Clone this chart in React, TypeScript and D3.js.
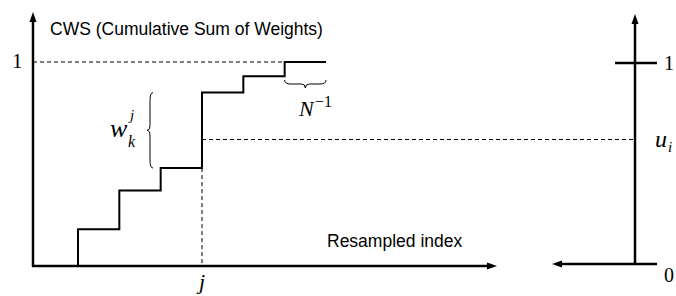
import { useMemo } from "react";
import * as d3 from "d3";

// Resampled index positions and cumulative weight levels
const stepIndex = [1, 2, 3, 4, 5, 6, 7];
const cwsLevels = [0, 0.18, 0.37, 0.48, 0.85, 0.93, 1.0];
const jIndex = 4;
const uValue = 0.62;
const yTicks = [0, 1];

const W = 676;
const H = 296;

function arrowHead(x: number, y: number, dir: "up" | "right" | "left") {
  const l = 10;
  const w = 3.5;
  if (dir === "up") return `M${x},${y} L${x - w},${y + l} L${x + w},${y + l} Z`;
  if (dir === "right") return `M${x},${y} L${x - l},${y - w} L${x - l},${y + w} Z`;
  return `M${x},${y} L${x + l},${y - w} L${x + l},${y + w} Z`;
}

// vertical curly brace, tip pointing left
function vBrace(x: number, y0: number, y1: number, depth: number) {
  const m = (y0 + y1) / 2;
  const d = depth;
  return `M${x},${y0} Q${x - d},${y0} ${x - d},${y0 + 8} L${x - d},${m - 6} Q${x - d},${m} ${x - 2 * d},${m} Q${x - d},${m} ${x - d},${m + 6} L${x - d},${y1 - 8} Q${x - d},${y1} ${x},${y1}`;
}

// horizontal curly brace, tip pointing down
function hBrace(x0: number, x1: number, y: number, depth: number) {
  const m = (x0 + x1) / 2;
  const d = depth;
  return `M${x0},${y} Q${x0},${y + d} ${x0 + 6},${y + d} L${m - 4},${y + d} Q${m},${y + d} ${m},${y + 2 * d} Q${m},${y + d} ${m + 4},${y + d} L${x1 - 6},${y + d} Q${x1},${y + d} ${x1},${y}`;
}

export default function App() {
  const axisX = 33;
  const axisY = 266;
  const rightX = 635;

  const x = useMemo(() => d3.scaleLinear().domain([1, 7]).range([78, 326]), []);
  const y = useMemo(() => d3.scaleLinear().domain([0, 1]).range([axisY, 62]), []);
  const yR = useMemo(() => d3.scaleLinear().domain([0, 1]).range([264, 63]), []);

  const stepPath = useMemo(() => {
    const pts = stepIndex.map((i, k) => [i, cwsLevels[k]] as [number, number]);
    return (
      d3
        .line<[number, number]>()
        .x((d) => x(d[0]))
        .y((d) => y(d[1]))
        .curve(d3.curveStepBefore)(pts) ?? ""
    );
  }, [x, y]);

  const xj = x(jIndex);
  const top = cwsLevels[cwsLevels.length - 1];
  const serif = "'Liberation Serif', 'Times New Roman', serif";
  const sans = "'Liberation Sans', Arial, sans-serif";

  return (
    <div style={{ position: "fixed", left: 0, top: 0 }}>
      <svg width={W} height={H} viewBox={`0 0 ${W} ${H}`} style={{ display: "block", background: "#fff" }}>
        {/* Dashed guides */}
        <line x1={axisX} x2={x(6)} y1={y(top)} y2={y(top)} stroke="#000" strokeWidth={1} strokeDasharray="4,3" />
        <line x1={xj} x2={rightX} y1={y(uValue)} y2={y(uValue)} stroke="#000" strokeWidth={1} strokeDasharray="4,3" />
        <line x1={xj} x2={xj} y1={y(cwsLevels[jIndex - 1])} y2={axisY} stroke="#000" strokeWidth={1} strokeDasharray="4,3" />

        {/* Step function */}
        <path d={stepPath} fill="none" stroke="#000" strokeWidth={2} />

        {/* Left axes */}
        <line x1={axisX} x2={axisX} y1={axisY + 1} y2={20} stroke="#000" strokeWidth={2.5} />
        <path d={arrowHead(axisX, 12, "up")} fill="#000" />
        <line x1={axisX - 1} x2={489} y1={axisY} y2={axisY} stroke="#000" strokeWidth={2.5} />
        <path d={arrowHead(497, axisY, "right")} fill="#000" />

        {/* Right axis */}
        <line x1={rightX} x2={rightX} y1={yR(0)} y2={22} stroke="#000" strokeWidth={2.5} />
        <path d={arrowHead(rightX, 14, "up")} fill="#000" />
        <line x1={560} x2={657} y1={yR(0)} y2={yR(0)} stroke="#000" strokeWidth={2.5} />
        <path d={arrowHead(552, yR(0), "left")} fill="#000" />
        <line x1={615} x2={657} y1={yR(1)} y2={yR(1)} stroke="#000" strokeWidth={2.5} />
        {yTicks.map((t) => (
          <text key={t} x={664} y={t === 0 ? yR(t) + 18 : yR(t) + 7} fontFamily={serif} fontSize={20}>
            {t}
          </text>
        ))}
        <text x={655} y={147} fontFamily={serif} fontStyle="italic" fontSize={24}>
          u
        </text>
        <text x={668} y={152} fontFamily={serif} fontStyle="italic" fontSize={15}>
          i
        </text>

        {/* Braces */}
        <path d={vBrace(153, y(cwsLevels[4]), y(cwsLevels[3]), 3)} fill="none" stroke="#000" strokeWidth={1} />
        <path d={hBrace(x(6), x(7), 80, 4)} fill="none" stroke="#000" strokeWidth={1} />

        {/* Labels */}
        <text x={50} y={35} fontFamily={sans} fontSize={17.5}>
          CWS (Cumulative Sum of Weights)
        </text>
        <text x={12} y={68} fontFamily={serif} fontSize={21}>
          1
        </text>
        <text x={327} y={247} fontFamily={sans} fontSize={17.5}>
          Resampled index
        </text>
        <text x={xj - 3} y={289} fontFamily={serif} fontStyle="italic" fontSize={22}>
          j
        </text>
        <text x={110} y={137} fontFamily={serif} fontStyle="italic" fontSize={26}>
          w
        </text>
        <text x={130} y={120} fontFamily={serif} fontStyle="italic" fontSize={15}>
          j
        </text>
        <text x={128} y={147} fontFamily={serif} fontStyle="italic" fontSize={16}>
          k
        </text>
        <text x={299} y={116} fontFamily={serif} fontStyle="italic" fontSize={22}>
          N
        </text>
        <text x={315} y={107} fontFamily={serif} fontSize={16}>
          −1
        </text>
      </svg>
    </div>
  );
}
